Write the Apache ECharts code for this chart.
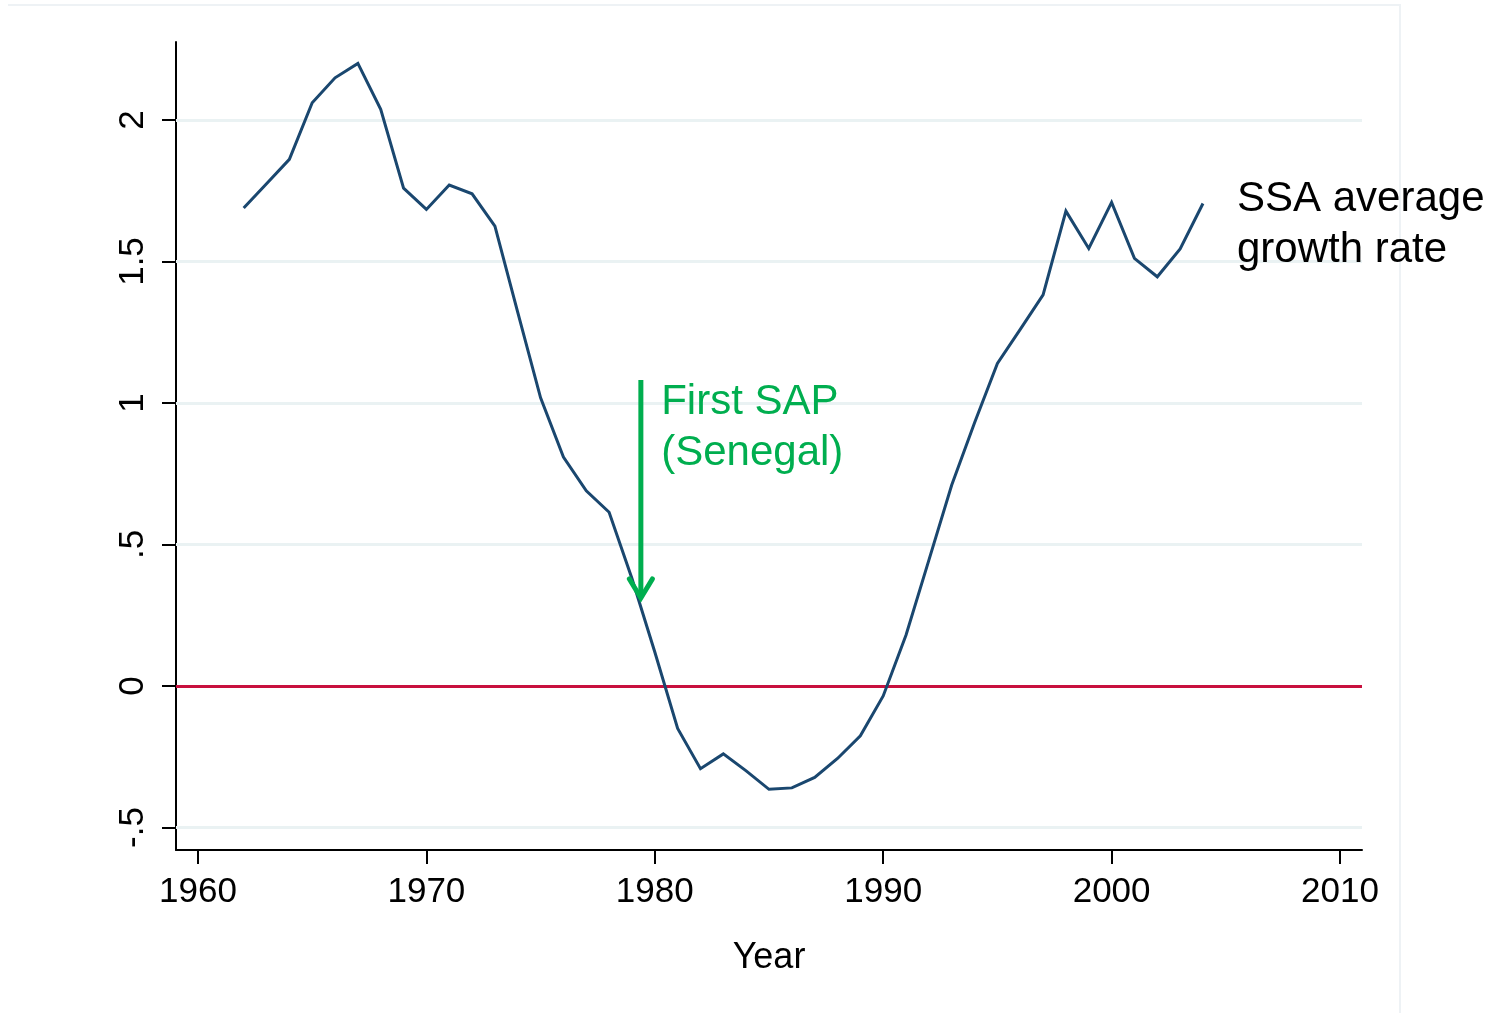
<!DOCTYPE html>
<html>
<head>
<meta charset="utf-8">
<title>SSA average growth rate</title>
<script src="https://cdn.jsdelivr.net/npm/echarts@6/dist/echarts.min.js"></script>
<style>
  html, body { margin: 0; padding: 0; background: #ffffff; }
  #chart { width: 1495px; height: 1013px; }
</style>
</head>
<body>
<div id="chart"></div>
<script>
// Sub-Saharan Africa average growth rate, by year
const years = [
  1962, 1963, 1964, 1965, 1966, 1967, 1968, 1969, 1970, 1971,
  1972, 1973, 1974, 1975, 1976, 1977, 1978, 1979, 1980, 1981,
  1982, 1983, 1984, 1985, 1986, 1987, 1988, 1989, 1990, 1991,
  1992, 1993, 1994, 1995, 1996, 1997, 1998, 1999, 2000, 2001,
  2002, 2003, 2004
];
const growth = [
  1.689, 1.775, 1.861, 2.061, 2.149, 2.200, 2.038, 1.759, 1.684, 1.770,
  1.739, 1.625, 1.320, 1.018, 0.809, 0.690, 0.614, 0.380, 0.120, -0.150,
  -0.292, -0.240, -0.300, -0.365, -0.360, -0.323, -0.256, -0.176, -0.035, 0.180,
  0.445, 0.710, 0.930, 1.140, 1.260, 1.382, 1.678, 1.546, 1.709, 1.511,
  1.446, 1.544, 1.705
];

// Axis ticks and their printed labels
const xTicks = [1960, 1970, 1980, 1990, 2000, 2010];
const yTicks = [-0.5, 0, 0.5, 1, 1.5, 2];
const yTickLabels = ['-.5', '0', '.5', '1', '1.5', '2'];
const gridValues = [-0.5, 0.5, 1, 1.5, 2];
const referenceValue = 0;

// Annotations (data coordinates)
const sapArrowFrom = [1979.39, 1.081];
const sapArrowTo = [1979.39, 0.311];
const sapText = 'First SAP\n(Senegal)';
const sapTextAt = [1980.28, 0.913];
const seriesText = 'SSA average\ngrowth rate';
const seriesTextAt = [2005.49, 1.628];

const FONT = '"Liberation Sans", Arial, Helvetica, sans-serif';
const GREEN = '#00ae4f';

const pairs = years.map((y, i) => [y, growth[i]]);

const chart = echarts.init(document.getElementById('chart'), null, { renderer: 'canvas' });

chart.setOption({
  backgroundColor: '#ffffff',
  animation: false,
  textStyle: { fontFamily: FONT },
  graphic: [
    {
      type: 'polyline',
      shape: { points: [[8, 5], [1400, 5], [1400, 1013]] },
      style: { fill: 'none', stroke: '#eef2f5', lineWidth: 2 },
      silent: true,
      z: -10
    }
  ],
  grid: { left: 176, right: 133, top: 42, bottom: 163, containLabel: false },
  xAxis: {
    type: 'value',
    min: 1959.037,
    max: 2010.963,
    name: 'Year',
    nameLocation: 'middle',
    nameGap: 90,
    nameTextStyle: { fontSize: 36, color: '#000000', fontFamily: FONT },
    axisLine: { show: true, onZero: false, lineStyle: { color: '#000000', width: 2 } },
    axisTick: { show: true, length: 14, lineStyle: { color: '#000000', width: 2 }, customValues: xTicks },
    axisLabel: {
      show: true, fontSize: 35, color: '#000000', margin: 25, fontFamily: FONT,
      customValues: xTicks,
      formatter: v => String(Math.round(v))
    },
    splitLine: { show: false }
  },
  yAxis: {
    type: 'value',
    min: -0.5795,
    max: 2.2756,
    axisLine: { show: true, lineStyle: { color: '#000000', width: 2 } },
    axisTick: { show: true, length: 14, lineStyle: { color: '#000000', width: 2 }, customValues: yTicks },
    axisLabel: {
      show: true, rotate: 90, fontSize: 35, color: '#000000', margin: 25, fontFamily: FONT,
      customValues: yTicks,
      formatter: v => {
        const i = yTicks.findIndex(t => Math.abs(t - v) < 1e-6);
        return i >= 0 ? yTickLabels[i] : '';
      }
    },
    splitLine: { show: false }
  },
  series: [
    {
      // grid lines and the zero reference line
      type: 'line',
      data: [],
      z: 1,
      silent: true,
      markLine: {
        silent: true,
        symbol: 'none',
        label: { show: false },
        data: gridValues.map(v => ({ yAxis: v, lineStyle: { color: '#eaf2f3', width: 3, type: 'solid' } }))
          .concat([{ yAxis: referenceValue, lineStyle: { color: '#c8103e', width: 3, type: 'solid' } }])
      }
    },
    {
      name: 'SSA average growth rate',
      type: 'line',
      data: pairs,
      z: 5,
      showSymbol: false,
      symbol: 'none',
      lineStyle: { color: '#1a476f', width: 3, join: 'miter' },
      silent: true
    },
    {
      // arrow and text annotations
      type: 'custom',
      z: 6,
      silent: true,
      data: [[0]],
      renderItem: (params, api) => {
        const a = api.coord(sapArrowFrom);
        const b = api.coord(sapArrowTo);
        const t1 = api.coord(sapTextAt);
        const t2 = api.coord(seriesTextAt);
        return {
          type: 'group',
          children: [
            {
              type: 'line',
              shape: { x1: a[0], y1: a[1], x2: b[0], y2: b[1] - 3 },
              style: { stroke: GREEN, lineWidth: 5 }
            },
            {
              type: 'polyline',
              shape: { points: [[b[0] - 11.5, b[1] - 19], [b[0], b[1]], [b[0] + 11.5, b[1] - 19]] },
              style: { stroke: GREEN, lineWidth: 5, fill: 'none', lineJoin: 'miter', lineCap: 'round' }
            },
            {
              type: 'text',
              x: t1[0], y: t1[1],
              style: {
                text: sapText, fill: GREEN, fontSize: 42, fontFamily: FONT,
                lineHeight: 51, align: 'left', verticalAlign: 'middle'
              }
            },
            {
              type: 'text',
              x: t2[0], y: t2[1],
              style: {
                text: seriesText, fill: '#000000', fontSize: 42, fontFamily: FONT,
                lineHeight: 51, align: 'left', verticalAlign: 'middle'
              }
            }
          ]
        };
      }
    }
  ]
});
</script>
</body>
</html>
